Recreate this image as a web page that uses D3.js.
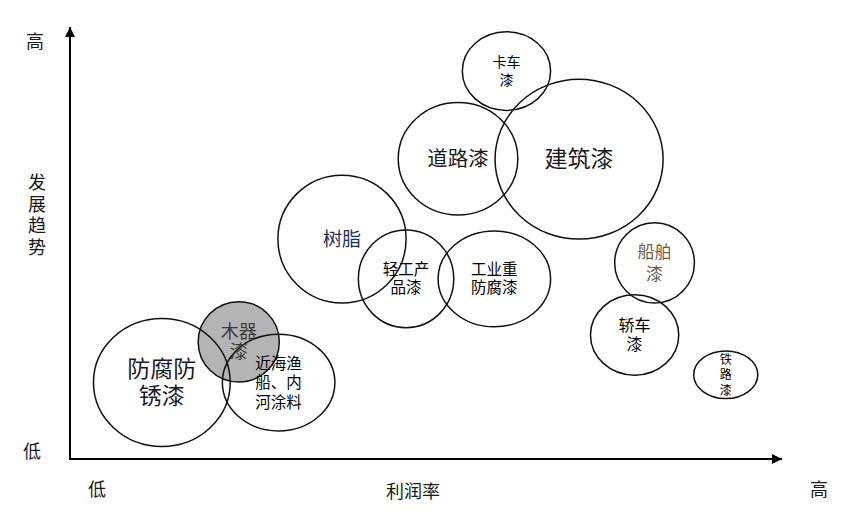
<!DOCTYPE html>
<html>
<head>
<meta charset="utf-8">
<script src="https://cdn.jsdelivr.net/npm/d3@7"></script>
<style>
html,body{margin:0;padding:0;background:#fff;}
svg{display:block;font-family:"Noto Sans CJK SC","Noto Sans CJK JP",sans-serif;}
</style>
</head>
<body>
<svg id="chart" width="857" height="515"></svg>
<script>
// Data (profit margin score 0-10, development trend score 0-10, bubble half-width / half-height in score units)
const names = ["木器漆","防腐防锈漆","近海渔船、内河涂料","树脂","轻工产品漆","工业重防腐漆","道路漆","建筑漆","卡车漆","船舶漆","轿车漆","铁路漆"];
const labelLines = [["木器","漆"],["防腐防","锈漆"],["近海渔","船、内","河涂料"],["树脂"],["轻工产","品漆"],["工业重","防腐漆"],["道路漆"],["建筑漆"],["卡车","漆"],["船舶","漆"],["轿车","漆"],["铁","路","漆"]];
const profit  = [2.37, 1.29, 2.93, 3.82, 4.72, 5.96, 5.45, 7.15, 6.13, 8.21, 7.93, 9.21];
const trend   = [2.71, 1.77, 1.77, 5.09, 4.17, 4.17, 6.95, 6.94, 8.98, 4.54, 2.87, 1.95];
const sizeX   = [0.57, 0.96, 0.79, 0.90, 0.67, 0.79, 0.84, 1.18, 0.62, 0.56, 0.62, 0.45];
const sizeY   = [0.93, 1.48, 1.12, 1.48, 1.13, 1.11, 1.30, 1.85, 0.91, 0.93, 0.93, 0.55];
const fills   = ["#b4b4b4","none","none","none","none","none","none","none","none","none","none","none"];
const fontSz  = [18, 23, 15.5, 19, 15.5, 15.5, 20.5, 23, 14, 17, 16, 12];
const lineGap = [20, 27, 19.5, 0, 18, 18, 0, 0, 18, 21.5, 19, 15.5];
const txtCol  = ["#3a3a3a","#1a1a2a","#000","#1c2f5c","#000","#000","#1a1a1a","#1a1a1a","#000","#6f5f4a","#000","#000"];
const xEnds = ["低","高"];
const yEnds = ["低","高"];
const xTitle = "利润率";
const yTitle = "发展趋势";

const svg = d3.select("#chart");
const x = d3.scaleLinear().domain([0,10]).range([70,782]);
const y = d3.scaleLinear().domain([0,10]).range([459,27]);

// axes
const defs = svg.append("defs");
defs.append("marker").attr("id","arr").attr("viewBox","0 0 10 10").attr("refX",10).attr("refY",5)
  .attr("markerWidth",10).attr("markerHeight",10).attr("markerUnits","userSpaceOnUse").attr("orient","auto")
  .append("path").attr("d","M0,0 L10,5 L0,10 Z").attr("fill","#000");

svg.append("line").attr("x1",x(0)).attr("y1",y(0)).attr("x2",x(0)).attr("y2",y(10))
  .attr("stroke","#000").attr("stroke-width",2).attr("marker-end","url(#arr)");
svg.append("line").attr("x1",x(0)-1).attr("y1",y(0)).attr("x2",x(10)).attr("y2",y(0))
  .attr("stroke","#000").attr("stroke-width",2).attr("marker-end","url(#arr)");

// bubbles
const idx = d3.range(names.length);
svg.append("g").selectAll("ellipse").data(idx).join("ellipse")
  .attr("cx",i=>x(profit[i])).attr("cy",i=>y(trend[i]))
  .attr("rx",i=>x(sizeX[i])-x(0)).attr("ry",i=>y(0)-y(sizeY[i]))
  .attr("fill",i=>fills[i]).attr("stroke","#111").attr("stroke-width",1.5);

// labels
const lg = svg.append("g");
idx.forEach(i=>{
  const lines = labelLines[i];
  const n = lines.length;
  const t = lg.append("text").attr("text-anchor","middle").attr("font-size",fontSz[i]).attr("fill",txtCol[i]);
  lines.forEach((ln,k)=>{
    t.append("tspan").attr("x",x(profit[i]))
      .attr("y",y(trend[i]) + (k-(n-1)/2)*lineGap[i])
      .attr("dy","0.36em").text(ln);
  });
});

// axis end labels
const ax = svg.append("g").attr("font-size",18).attr("fill","#1a1a1a").attr("text-anchor","middle");
ax.append("text").attr("x",35).attr("y",42).attr("dy","0.36em").text(yEnds[1]);
ax.append("text").attr("x",32).attr("y",452).attr("dy","0.36em").text(yEnds[0]);
ax.append("text").attr("x",97).attr("y",490).attr("dy","0.36em").text(xEnds[0]);
ax.append("text").attr("x",819).attr("y",490).attr("dy","0.36em").text(xEnds[1]);
ax.append("text").attr("x",413).attr("y",492).attr("dy","0.36em").text(xTitle);
const yt = ax.append("text");
Array.from(yTitle).forEach((c,k)=>{
  yt.append("tspan").attr("x",37).attr("y",183+k*21.5).attr("dy","0.36em").text(c);
});
</script>
</body>
</html>
